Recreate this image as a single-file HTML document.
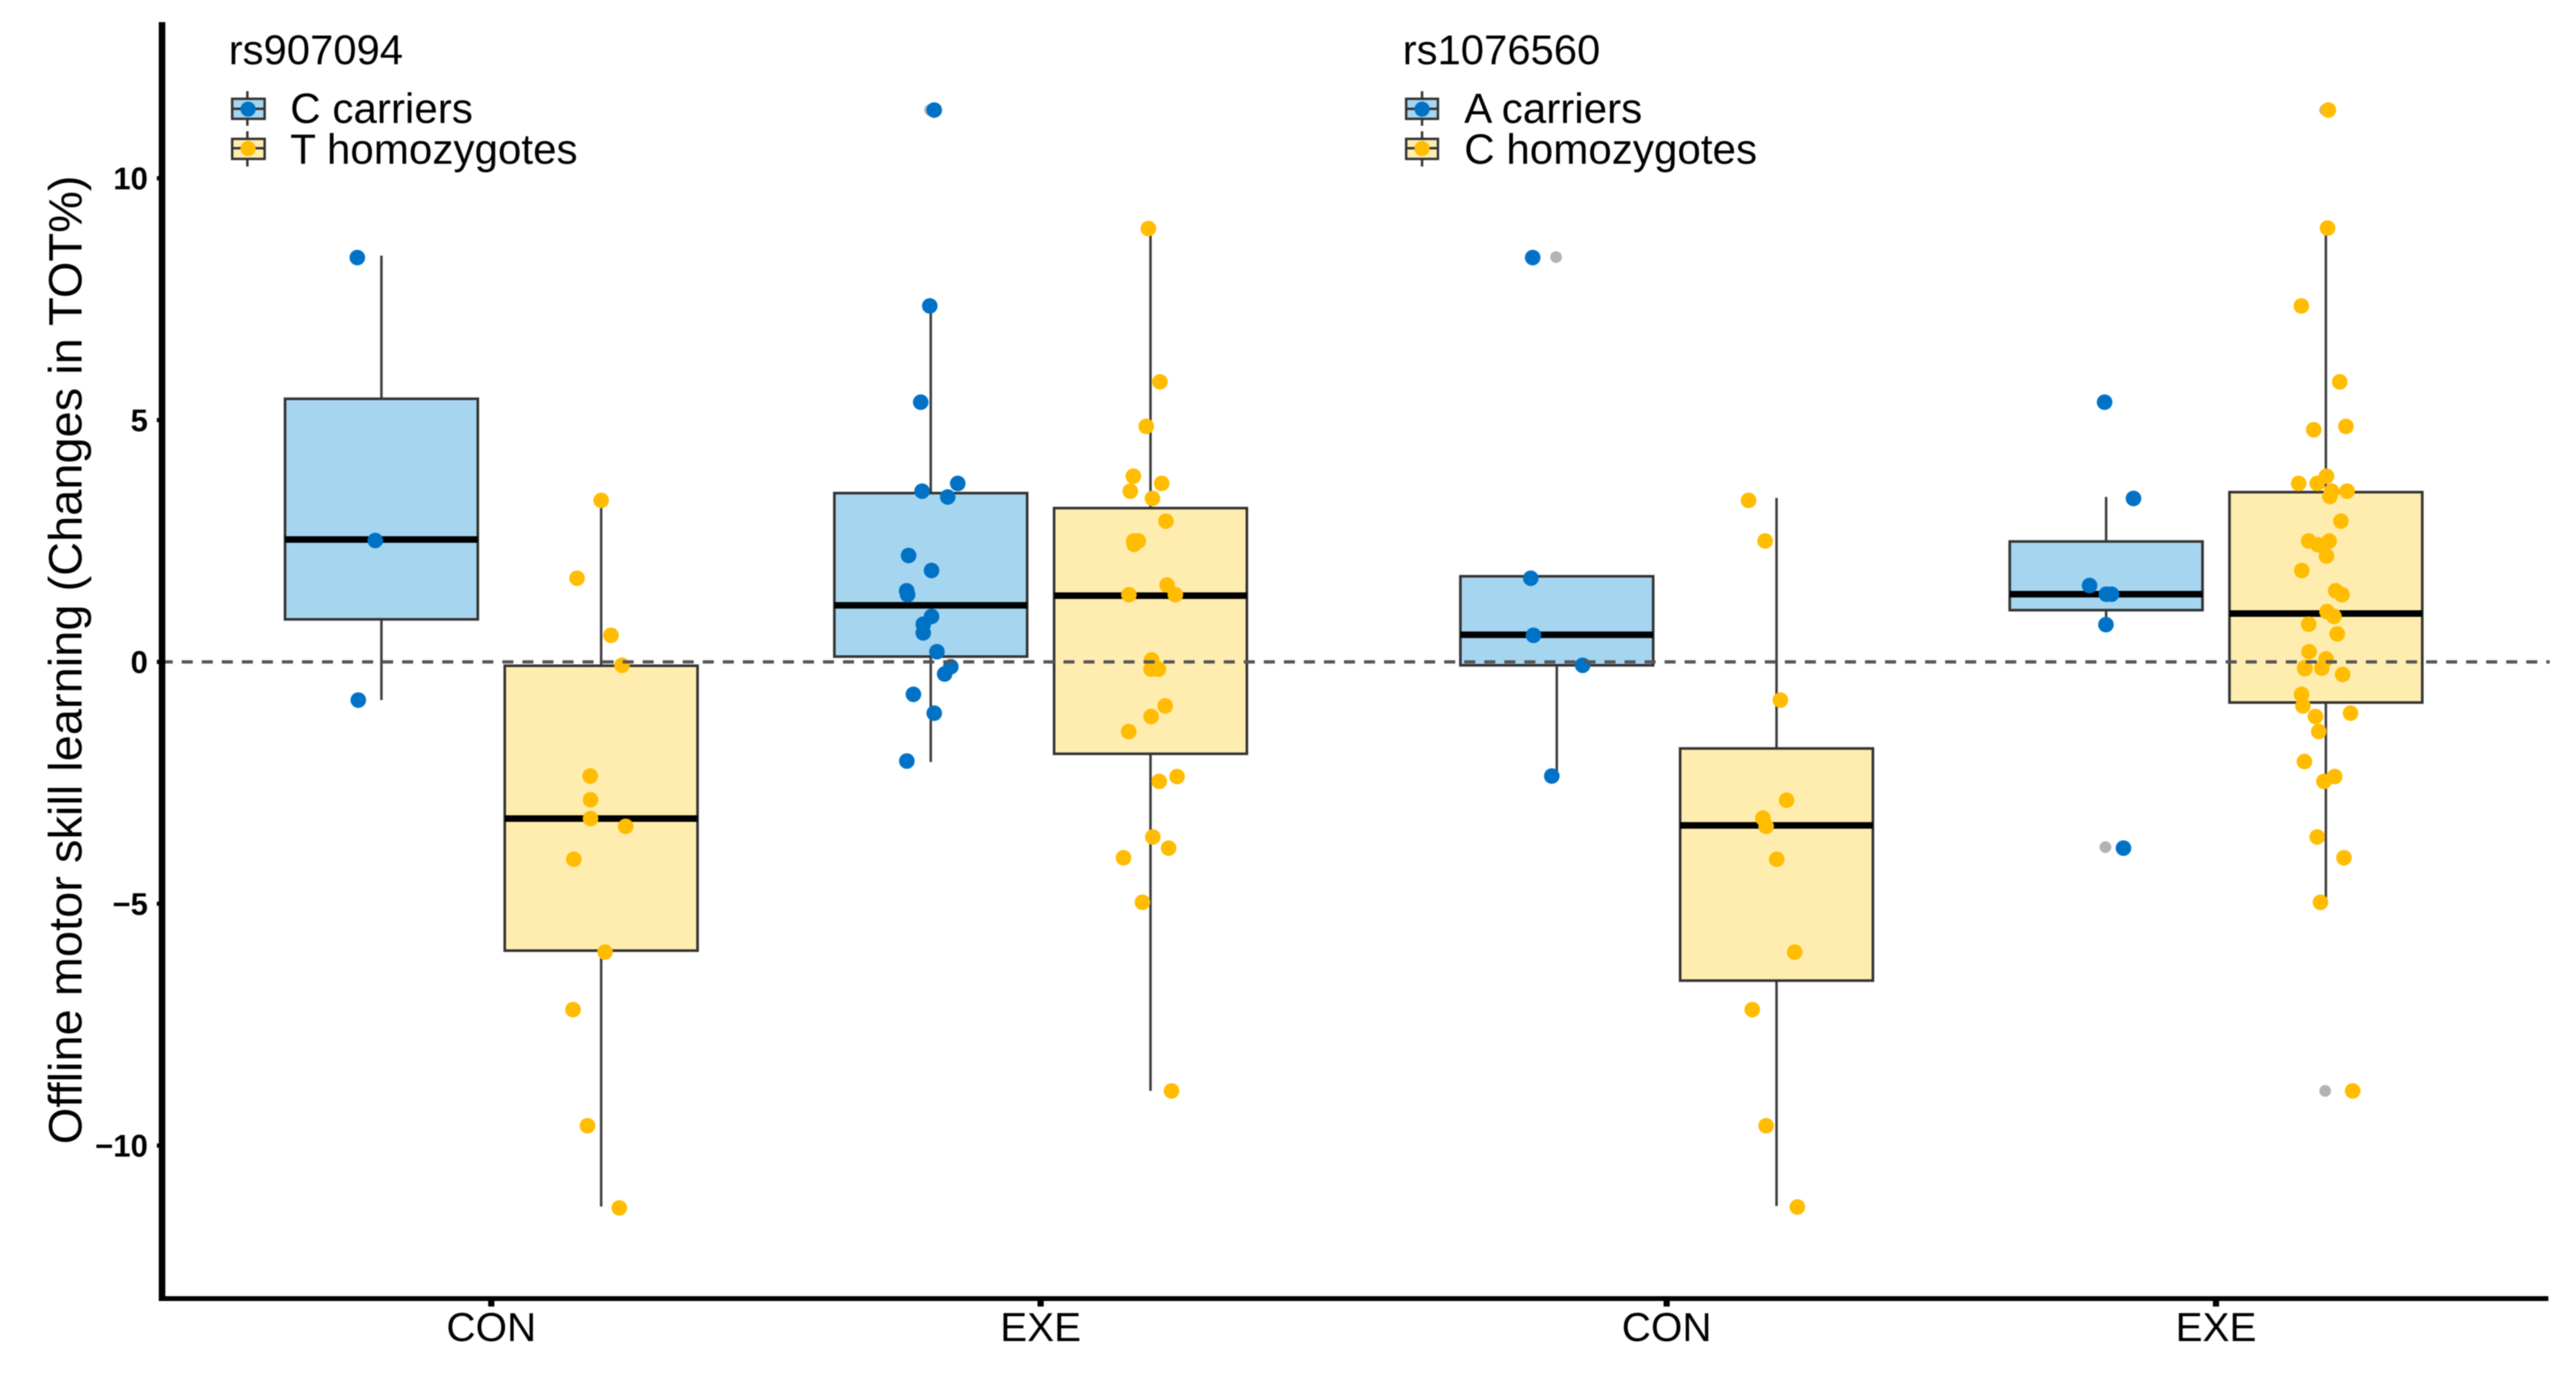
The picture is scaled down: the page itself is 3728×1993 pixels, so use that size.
<!DOCTYPE html>
<html lang="en">
<head>
<meta charset="utf-8">
<title>Offline motor skill learning by genotype</title>
<style>
html,body{margin:0;padding:0;background:#fff;width:3728px;height:1993px;overflow:hidden}
svg{display:block;filter:blur(0.7px)}
text{font-family:"Liberation Sans",Arial,sans-serif;fill:#000}
</style>
</head>
<body>
<svg id="chart" xmlns="http://www.w3.org/2000/svg" width="3728" height="1993" viewBox="0 0 3728 1993">
  <rect x="0" y="0" width="3728" height="1993" fill="#ffffff"/>
  <g id="boxes"></g>
  <g id="outliers"></g>
  <g id="points"></g>
  <line id="zero-line" x1="234" x2="3690" stroke="#555555" stroke-width="4.8" stroke-dasharray="16 13"/>
  <g id="ticks"></g>
  <line x1="234.5" x2="234.5" y1="32" y2="1883" stroke="#000" stroke-width="9.5"/>
  <line x1="230" x2="3688" y1="1879.5" y2="1879.5" stroke="#000" stroke-width="7"/>
  <text transform="translate(118 955) rotate(-90)" text-anchor="middle" font-size="68">Offline motor skill learning (Changes in TOT%)</text>

  <g>
    <text x="331" y="93" font-size="60.5">rs907094</text>
    <g>
      <line x1="358" x2="358" y1="132" y2="182" stroke="#333" stroke-width="3.5"/>
      <rect x="336" y="143" width="47" height="29" fill="#a6d6ef" stroke="#333" stroke-width="3.5"/>
      <line x1="336" x2="383" y1="157.5" y2="157.5" stroke="#333" stroke-width="3.5"/>
      <circle cx="359" cy="158" r="11" fill="#0072c6"/>
      <text x="420" y="178" font-size="61">C carriers</text>
    </g>
    <g>
      <line x1="358" x2="358" y1="190" y2="241" stroke="#333" stroke-width="3.5"/>
      <rect x="336" y="201" width="47" height="29" fill="#ffedb0" stroke="#333" stroke-width="3.5"/>
      <line x1="336" x2="383" y1="214.5" y2="214.5" stroke="#333" stroke-width="3.5"/>
      <circle cx="359" cy="215" r="11" fill="#ffbc00"/>
      <text x="420" y="237" font-size="61">T homozygotes</text>
    </g>
  </g>

  <g>
    <text x="2030" y="93" font-size="60.5">rs1076560</text>
    <g>
      <line x1="2058" x2="2058" y1="132" y2="182" stroke="#333" stroke-width="3.5"/>
      <rect x="2035" y="143" width="46" height="29" fill="#a6d6ef" stroke="#333" stroke-width="3.5"/>
      <line x1="2035" x2="2081" y1="157.5" y2="157.5" stroke="#333" stroke-width="3.5"/>
      <circle cx="2058" cy="158" r="11" fill="#0072c6"/>
      <text x="2119" y="178" font-size="61">A carriers</text>
    </g>
    <g>
      <line x1="2058" x2="2058" y1="190" y2="241" stroke="#333" stroke-width="3.5"/>
      <rect x="2035" y="201" width="46" height="29" fill="#ffedb0" stroke="#333" stroke-width="3.5"/>
      <line x1="2035" x2="2081" y1="214.5" y2="214.5" stroke="#333" stroke-width="3.5"/>
      <circle cx="2058" cy="215" r="11" fill="#ffbc00"/>
      <text x="2119" y="237" font-size="61">C homozygotes</text>
    </g>
  </g>
</svg>
<script>
// ---- categories and tick labels ----
const categories = ["CON", "EXE", "CON", "EXE"];
const yTicks = [10, 5, 0, -5, -10];

// ---- box statistics: one entry per box, left to right ----
const boxGroupNames = ["con-c-carriers", "con-t-homozygotes", "exe-c-carriers", "exe-t-homozygotes", "con-a-carriers", "con-c-homozygotes", "exe-a-carriers", "exe-c-homozygotes"];
const boxCategory = [0, 0, 1, 1, 2, 2, 3, 3];
const boxGenotype = [0, 1, 0, 1, 0, 1, 0, 1];
const whiskerHigh = [8.40, 3.36, 7.34, 8.96, 1.77, 3.39, 3.41, 8.97];
const q3 = [5.44, -0.08, 3.49, 3.18, 1.77, -1.79, 2.49, 3.51];
const median = [2.53, -3.24, 1.17, 1.37, 0.56, -3.38, 1.40, 1.00];
const q1 = [0.88, -5.97, 0.11, -1.90, -0.07, -6.59, 1.07, -0.84];
const whiskerLow = [-0.79, -11.26, -2.07, -8.87, -2.36, -11.25, 0.80, -4.97];

// ---- boxplot outliers (grey) ----
const outliers = [[], [], [11.41], [], [8.37], [], [-3.83], [11.41, -8.87]];

// ---- jittered observations; jitter is horizontal offset in percent of box width ----
const values0 = [8.36, 2.51, -0.79];
const jitter0 = [-12.5, -3.2, -12.0];

const values1 = [3.34, 1.73, 0.55, -0.07, -2.36, -2.85, -3.24, -3.40, -4.08, -6.00, -7.19, -9.59, -11.29];
const jitter1 = [0, -12.5, 5.1, 10.8, -5.7, -5.5, -5.5, 12.7, -14.2, 2.0, -14.6, -7.1, 9.4];

const values2 = [11.41, 7.36, 5.37, 3.69, 3.53, 3.41, 2.20, 1.89, 1.47, 1.39, 0.94, 0.78, 0.60, 0.21, -0.10, -0.25, -0.67, -1.06, -2.05];
const jitter2 = [1.8, -0.5, -5.2, 14, -4.5, 8.8, -11.5, 0.4, -12.5, -12, 0.4, -3.9, -3.9, 3.2, 10.4, 7.2, -9, 1.8, -12.4];

const values3 = [8.96, 5.79, 4.87, 3.84, 3.69, 3.53, 3.38, 2.91, 2.50, 2.50, 2.43, 1.59, 1.39, 1.39, 0.04, -0.15, -0.15, -0.91, -1.13, -1.44, -2.47, -2.37, -3.62, -3.85, -4.05, -4.97, -8.87];
const jitter3 = [-1.1, 4.9, -2.2, -8.9, 5.8, -10.5, 1.0, 8.0, -8.7, -6.3, -8.5, 8.6, -11.2, 12.9, 0.6, 0.3, 4.1, 7.6, 0.3, -11.3, 4.5, 13.8, 1.2, 9.4, -14, -4.2, 10.9];

const values4 = [8.36, 1.73, 0.55, -0.07, -2.36];
const jitter4 = [-12.5, -13.5, -12.1, 13.4, -2.6];

const values5 = [3.34, 2.50, -0.79, -2.86, -3.23, -3.40, -4.08, -6.00, -7.19, -9.59, -11.27];
const jitter5 = [-14.5, -5.9, 2, 5.2, -7.1, -5.4, 0.1, 9.4, -12.6, -5.4, 10.8];

const values6 = [5.37, 3.38, 1.58, 1.40, 1.40, 0.77, -3.85];
const jitter6 = [-0.8, 14.2, -8.6, 0.1, 2.8, -0.1, 9];

const values7 = [11.41, 8.97, 7.36, 5.79, 4.80, 4.87, 3.84, 3.69, 3.69, 3.53, 3.53, 3.42, 2.91, 2.50, 2.42, 2.50, 2.19, 1.89, 1.47, 1.39, 1.04, 0.94, 0.78, 0.58, 0.21, 0.06, -0.12, -0.14, -0.13, -0.26, -0.67, -0.91, -1.13, -1.06, -1.44, -2.06, -2.37, -2.47, -3.62, -4.05, -4.97, -8.87];
const jitter7 = [1.3, 0.9, -12.7, 7.2, -6.3, 10.4, 0.3, -14.1, -4.5, 3, 11, 2.1, 7.8, -8.9, -4.1, 1.7, 0.3, -12.5, 5.1, 8.4, 0.6, 4.2, -8.9, 5.9, -8.7, 0.1, -11, -10.9, -2.1, 8.7, -12.6, -11.9, -5.4, 12.8, -3.7, -11.1, 4.6, -1, -4.5, 9.4, -2.8, 13.9];

const allValues = [values0, values1, values2, values3, values4, values5, values6, values7];
const allJitter = [jitter0, jitter1, jitter2, jitter3, jitter4, jitter5, jitter6, jitter7];

// ---- scales ----
function yScale(v) { return 958 - 70 * v; }
function xCategory(i) { return 711 + 795 * (i % 2) + 1701 * Math.floor(i / 2); }
const BOX_WIDTH = 279;
const DODGE = 159;
function xBox(i) { return xCategory(boxCategory[i]) + (boxGenotype[i] === 0 ? -DODGE : DODGE); }

const NS = "http://www.w3.org/2000/svg";
function make(tag, parent, attrs) {
  const node = document.createElementNS(NS, tag);
  Object.keys(attrs).forEach(function (k) { node.setAttribute(k, attrs[k]); });
  parent.appendChild(node);
  return node;
}

const fills = ["#a6d6ef", "#ffedb0"];
const dotColors = ["#0072c6", "#ffbc00"];
const boxLayer = document.getElementById("boxes");
const outlierLayer = document.getElementById("outliers");
const pointLayer = document.getElementById("points");
const tickLayer = document.getElementById("ticks");

// zero reference line
const zero = document.getElementById("zero-line");
zero.setAttribute("y1", yScale(0));
zero.setAttribute("y2", yScale(0));

// boxes
boxGroupNames.forEach(function (name, i) {
  const cx = xBox(i);
  const g = make("g", boxLayer, {});
  
  

  const wTop = make("line", g, { x1: cx, x2: cx, y1: yScale(whiskerHigh[i]), y2: yScale(q3[i]), stroke: "#3c3c3c", "stroke-width": 3.6 });
  
  

  const wLow = make("line", g, { x1: cx, x2: cx, y1: yScale(q1[i]), y2: yScale(whiskerLow[i]), stroke: "#3c3c3c", "stroke-width": 3.6 });
  
  

  const body = make("rect", g, { x: cx - BOX_WIDTH / 2, y: yScale(q3[i]), width: BOX_WIDTH, height: yScale(q1[i]) - yScale(q3[i]), fill: fills[boxGenotype[i]], stroke: "#333333", "stroke-width": 3.8 });
  
  

  const med = make("line", g, { x1: cx - BOX_WIDTH / 2, x2: cx + BOX_WIDTH / 2, y1: yScale(median[i]), y2: yScale(median[i]), stroke: "#000000", "stroke-width": 9.5 });
  
  

  outliers[i].forEach(function (v) {
    const o = make("circle", outlierLayer, { cx: cx - 1, cy: yScale(v), r: 8.5, fill: "#b3b3b3" });
    
    
  });

  allValues[i].forEach(function (v, j) {
    const p = make("circle", pointLayer, { cx: cx + allJitter[i][j] / 100 * BOX_WIDTH, cy: yScale(v), r: 11.3, fill: dotColors[boxGenotype[i]] });
    
    
  });
});

// y ticks
yTicks.forEach(function (t) {
  const mark = make("line", tickLayer, { x1: 227, x2: 234, y1: yScale(t), y2: yScale(t), stroke: "#000", "stroke-width": 6 });
  
  
  const label = make("text", tickLayer, { x: 214, y: yScale(t) + 16, "text-anchor": "end", "font-size": 45, "font-weight": "bold" });
  label.textContent = String(t).replace("-", "\u2212");
  
  
});

// x ticks
categories.forEach(function (c, i) {
  const x = xCategory(i);
  const mark = make("line", tickLayer, { x1: x, x2: x, y1: 1879, y2: 1891, stroke: "#000", "stroke-width": 9 });
  
  
  const label = make("text", tickLayer, { x: x, y: 1941, "text-anchor": "middle", "font-size": 58.5 });
  label.textContent = c;
  
  
});
</script>
</body>
</html>
